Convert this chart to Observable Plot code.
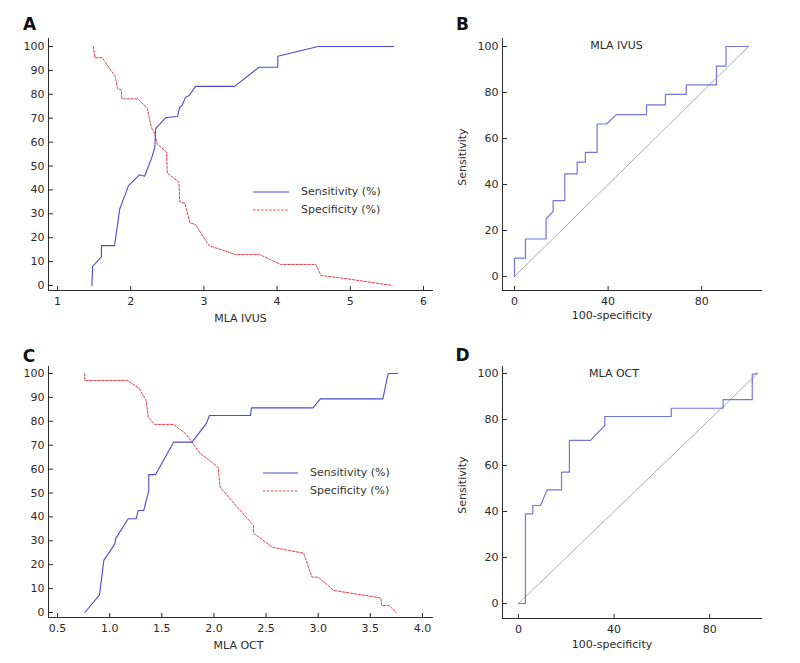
<!DOCTYPE html>
<html><head><meta charset="utf-8">
<script src="https://cdn.jsdelivr.net/npm/d3@7"></script>
<script src="https://cdn.jsdelivr.net/npm/@observablehq/plot@0.6"></script>
<style>
body{margin:0;background:#fff;}
#wrap{position:relative;width:800px;height:663px;font-family:"DejaVu Sans",Verdana,sans-serif;color:#333;overflow:hidden;}
.leg{position:absolute;font-size:11px;line-height:14px;white-space:nowrap;display:flex;align-items:center;}
.leg svg{margin-right:12px;}
</style></head><body><div id="wrap"></div>
<script>
// ---- data ----
const ivusX = [1.47,1.48,1.60,1.60,1.78,1.85,1.92,1.97,2.12,2.19,2.25,2.29,2.33,2.34,2.48,2.64,2.67,2.70,2.75,2.80,2.885,3.42,3.75,4.01,4.01,4.56,5.59];
const ivusSens = [0,8,12,16.7,16.7,32,37.6,41.8,46.3,45.7,50.5,53.7,57.9,65.6,70.2,70.8,74.6,75.2,78.8,79.5,83.3,83.3,91.3,91.3,95.9,100,100];
const ivusSpecX = [1.49,1.51,1.61,1.79,1.82,1.87,1.88,2.10,2.23,2.28,2.33,2.36,2.49,2.50,2.66,2.67,2.74,2.81,2.885,3.07,3.34,3.43,3.76,4.05,4.53,4.60,4.96,5.57];
const ivusSpec = [100,95.3,95.3,87.4,82.3,81.9,78.1,78.1,73.9,66.2,63.5,59.3,55.8,47,43.2,35.1,34.4,26.2,25.5,16.7,13.9,13,13,8.8,8.8,4.2,2.8,0];

const ivusFpr = [0,0,4.7,4.7,13.5,13.5,16.5,16.5,21.5,21.5,26.8,26.8,30.3,30.3,35.3,35.3,39.3,43.5,56.4,56.4,64.5,64.5,73.4,73.4,86.3,86.3,90.4,90.4,100];
const ivusTpr = [0,8,8,16.3,16.3,25,28.3,33,33,44.6,44.6,49.7,49.7,54,54,66.3,66.3,70.4,70.4,74.6,74.6,79.2,79.2,83.3,83.3,91.5,91.5,100,100];

const octX = [0.762,0.903,0.944,1.05,1.056,1.178,1.254,1.274,1.327,1.375,1.375,1.44,1.615,1.79,1.926,1.957,2.35,2.36,2.95,3.02,3.62,3.67,3.76];
const octSens = [0,7.4,21.8,28.7,30.8,39.2,39.2,42.7,42.7,51,57.7,57.7,71.3,71.3,79,82.4,82.4,85.6,85.6,89.4,89.4,100,100];
const octSpecX = [0.762,0.762,1.17,1.28,1.35,1.37,1.43,1.61,1.73,1.87,1.95,2.04,2.06,2.21,2.38,2.38,2.56,2.86,2.94,3.0,3.15,3.60,3.61,3.68,3.75];
const octSpec = [100,97.1,97.1,93.9,88.7,81.7,78.7,78.7,74.8,66.4,63.9,60.8,52.4,44.8,36.4,33.2,27.3,24.8,14.8,14.8,9.2,6.1,2.9,2.9,0];

const octFpr = [0,2.9,2.9,6,6,9.2,12,18,18,21.3,21.3,30.1,36.1,36.1,63.9,63.9,85.6,85.6,97.8,97.8,100];
const octTpr = [0,0,39,39,42.6,42.6,49.4,49.4,57.1,57.1,70.9,70.9,77.4,81.3,81.3,84.9,84.9,88.6,88.6,99.6,100];

const diag = [0, 100];
const ticksA_y = [0,10,20,30,40,50,60,70,80,90,100];
const ticksA_x = [1,2,3,4,5,6];
const ticksC_x = [0.5,1.0,1.5,2.0,2.5,3.0,3.5,4.0];
const ticksROC_y = [0,20,40,60,80,100];
const ticksROC_x = [0,40,80];
const legendLabels = ["Sensitivity (%)", "Specificity (%)"];

// ---- styles ----
const FONT = '"DejaVu Sans", Verdana, sans-serif';
const INK = "#2a2a2a";
const BLUE = "#4b4bcc";
const RED = "#e0444e";
const ROCBLUE = "#7474de";
const GREY = "#ababab";

const pts = (xs, ys) => xs.map((x, i) => ({x, y: ys[i]}));
const wrap = document.getElementById("wrap");

function panel(o) {
  const svg = Plot.plot({
    width: o.width, height: o.height,
    marginLeft: o.mL, marginRight: o.mR, marginTop: o.mT, marginBottom: o.mB,
    style: {fontFamily: FONT, fontSize: "11px", color: INK, background: "transparent", overflow: "visible"},
    x: {domain: o.xDomain, insetLeft: o.xIn[0], insetRight: o.xIn[1]},
    y: {domain: [0, 100], insetTop: o.yIn[0], insetBottom: o.yIn[1]},
    marks: [
      Plot.frame({anchor: "left", stroke: INK}),
      Plot.frame({anchor: "bottom", stroke: INK}),
      Plot.axisY({ticks: o.yTicks, tickSize: -5, tickPadding: 9, label: null, stroke: INK, fill: INK}),
      Plot.axisX({ticks: o.xTicks, tickSize: -4, tickPadding: 11, tickFormat: o.xFormat, label: null, stroke: INK, fill: INK}),
      ...o.marks,
      Plot.text([o.letter], {text: d => d, frameAnchor: "top-left", dx: o.letterD[0], dy: o.letterD[1], textAnchor: "middle", lineAnchor: "middle", fontWeight: "bold", fontSize: 17, fill: "#111"}),
      Plot.text([o.xLabel], {text: d => d, frameAnchor: "bottom", dx: o.xLabelD[0], dy: o.xLabelD[1], lineAnchor: "middle", textAnchor: "middle", fill: INK})
    ]
  });
  svg.style.position = "absolute";
  svg.style.left = o.left + "px";
  svg.style.top = o.top + "px";
  wrap.appendChild(svg);
}

function rocMarks(fpr, tpr, title, titleD) {
  return [
    Plot.line(diag, {x: d => d, y: d => d, stroke: GREY, strokeWidth: 1}),
    Plot.line(pts(fpr, tpr), {x: "x", y: "y", stroke: ROCBLUE, strokeWidth: 1.2}),
    Plot.text([title], {text: d => d, frameAnchor: "top", dx: titleD[0], dy: titleD[1], lineAnchor: "middle", textAnchor: "middle", fill: INK}),
    Plot.text(["Sensitivity"], {text: d => d, frameAnchor: "left", dx: -40, dy: -7.5, rotate: -90, textAnchor: "middle", lineAnchor: "middle", fill: INK})
  ];
}

function critMarks(sx, sy, px, py) {
  return [
    Plot.line(pts(px, py), {x: "x", y: "y", stroke: RED, strokeWidth: 1, strokeDasharray: "2.5,1.5"}),
    Plot.line(pts(sx, sy), {x: "x", y: "y", stroke: BLUE, strokeWidth: 1.1})
  ];
}

// A
panel({left: 0, top: 0, width: 450, height: 330, mL: 48, mR: 18, mT: 38, mB: 40,
  xDomain: [1, 6], xIn: [9, 9], yIn: [8, 5], xTicks: ticksA_x, yTicks: ticksA_y, xFormat: d3.format("d"),
  letter: "A", letterD: [-19, -14], xLabel: "MLA IVUS", xLabelD: [0, 28],
  marks: critMarks(ivusX, ivusSens, ivusSpecX, ivusSpec)});
// B
panel({left: 450, top: 0, width: 350, height: 330, mL: 52, mR: 39, mT: 38, mB: 40,
  xDomain: [0, 100], xIn: [12, 13], yIn: [8, 14], xTicks: ticksROC_x, yTicks: ticksROC_y, xFormat: d3.format("d"),
  letter: "B", letterD: [-40, -14], xLabel: "100-specificity", xLabelD: [-20, 25],
  marks: rocMarks(ivusFpr, ivusTpr, "MLA IVUS", [-15.5, 7])});
// C
panel({left: 0, top: 330, width: 450, height: 333, mL: 48, mR: 18, mT: 36, mB: 46,
  xDomain: [0.5, 4.0], xIn: [9, 10], yIn: [7, 5], xTicks: ticksC_x, yTicks: ticksA_y, xFormat: d3.format(".1f"),
  letter: "C", letterD: [-19.5, -10], xLabel: "MLA OCT", xLabelD: [-2, 28],
  marks: critMarks(octX, octSens, octSpecX, octSpec)});
// D
panel({left: 450, top: 330, width: 350, height: 333, mL: 52, mR: 39, mT: 36, mB: 45,
  xDomain: [0, 100], xIn: [16, 4], yIn: [7, 15], xTicks: ticksROC_x, yTicks: ticksROC_y, xFormat: d3.format("d"),
  letter: "D", letterD: [-40, -11], xLabel: "100-specificity", xLabelD: [-20, 26],
  marks: rocMarks(octFpr, octTpr, "MLA OCT", [-18, 7])});

// legends (HTML, inside panels A and C)
function legend(left, top, lineW) {
  [[BLUE, null], [RED, "2.5,1.5"]].forEach(([c, dash], i) => {
    const div = document.createElement("div");
    div.className = "leg";
    div.style.left = left + "px";
    div.style.top = (top + i * 18 - 7) + "px";
    div.innerHTML = `<svg width="${lineW}" height="14"><line x1="0" x2="${lineW}" y1="7" y2="7" stroke="${c}" stroke-width="1.1" ${dash ? `stroke-dasharray="${dash}"` : ""}/></svg><span>${legendLabels[i]}</span>`;
    wrap.appendChild(div);
  });
}
legend(253, 192, 36);
legend(263, 473, 35);
</script>
</body></html>
